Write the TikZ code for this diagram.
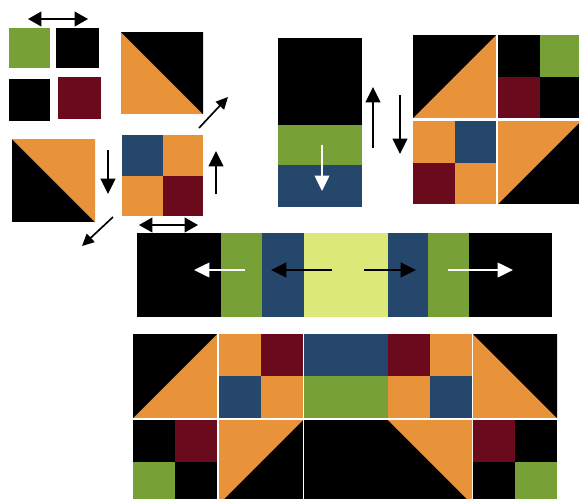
\documentclass[tikz,border=0pt]{standalone}
\usepackage{tikz}
\usetikzlibrary{arrows.meta}

\definecolor{qorange}{HTML}{E8923A}
\definecolor{qgreen}{HTML}{77A136}
\definecolor{qmaroon}{HTML}{6A0A1C}
\definecolor{qblue}{HTML}{24476B}
\definecolor{qlime}{HTML}{DCE877}

% four-patch: x, y (top left), size, TL, TR, BL, BR
\newcommand{\fourpatch}[7]{%
  \fill[#4] (#1,#2) rectangle ++(#3/2,#3/2);
  \fill[#5] (#1+#3/2,#2) rectangle ++(#3/2,#3/2);
  \fill[#6] (#1,#2+#3/2) rectangle ++(#3/2,#3/2);
  \fill[#7] (#1+#3/2,#2+#3/2) rectangle ++(#3/2,#3/2);
}
% half square, diagonal top left to bottom right: x, y, size, upper right, lower left
\newcommand{\halfdown}[5]{%
  \fill[#5] (#1,#2) rectangle ++(#3,#3);
  \fill[#4] (#1,#2) -- ++(#3,0) -- ++(0,#3) -- cycle;
}
% half square, diagonal bottom left to top right: x, y, size, upper left, lower right
\newcommand{\halfup}[5]{%
  \fill[#5] (#1,#2) rectangle ++(#3,#3);
  \fill[#4] (#1,#2) -- ++(#3,0) -- (#1,#2+#3) -- cycle;
}

\begin{document}
\begin{tikzpicture}[
    x=0.03cm, y=-0.03cm,
    arrow/.style={line width=1.5pt, -{Triangle[length=4.6mm,width=4.4mm]}},
    smallarrow/.style={line width=1.4pt, -{Triangle[length=3.6mm,width=3.4mm]}},
    swaparrow/.style={line width=1.5pt, {Triangle[length=4mm,width=4.4mm]}-{Triangle[length=4mm,width=4.4mm]}},
    whitearrow/.style={arrow, white, line width=1.2pt}
]
\clip (0,0) rectangle (579,499);
\fill[white] (0,0) rectangle (579,499);

% Top left: loose squares
\fill[qgreen] (9,28) rectangle (50,68);
\fill[black] (56,28) rectangle (99,68);
\fill[black] (9,79) rectangle (50,121);
\fill[qmaroon] (58,77) rectangle (101,119);

% Top left: half squares and four-patch
\halfdown{121}{32}{82}{black}{qorange}
\halfdown{12}{139}{83}{qorange}{black}
\fourpatch{122}{135}{81}{qblue}{qorange}{qorange}{qmaroon}

% Tall strip unit
\fill[black] (278,38) rectangle (362,125);
\fill[qgreen] (278,125) rectangle (362,165);
\fill[qblue] (278,165) rectangle (362,207);

% Top right block
\halfup{413}{35}{83}{black}{qorange}
\fourpatch{498}{35}{83}{black}{qgreen}{qmaroon}{black}
\fourpatch{413}{121}{83}{qorange}{qblue}{qmaroon}{qorange}
\halfup{498}{121}{83}{qorange}{black}

% Middle band
\fill[black] (137,233) rectangle (221,317);
\fill[qgreen] (221,233) rectangle (262,317);
\fill[qblue] (262,233) rectangle (304,317);
\fill[qlime] (304,233) rectangle (388,317);
\fill[qblue] (388,233) rectangle (428,317);
\fill[qgreen] (428,233) rectangle (469,317);
\fill[black] (469,233) rectangle (552,317);

% Bottom quilt, top row
\halfup{133}{334}{84}{black}{qorange}
\fourpatch{219}{334}{84}{qorange}{qmaroon}{qblue}{qorange}
\fill[qblue] (304,334) rectangle (388,376);
\fill[qgreen] (304,376) rectangle (388,418);
\fourpatch{388}{334}{84}{qmaroon}{qorange}{qorange}{qblue}
\halfdown{473}{334}{84}{black}{qorange}

% Bottom quilt, bottom row
\fourpatch{133}{420}{84}{black}{qmaroon}{qgreen}{black}
\halfup{219}{420}{84}{qorange}{black}
\fill[black] (304,420) rectangle (388,504);
\halfdown{388}{420}{84}{qorange}{black}
\fourpatch{473}{420}{84}{qmaroon}{black}{black}{qgreen}

% Arrow ends
\coordinate (swap1a) at (28,19);
\coordinate (swap1b) at (88,19);
\coordinate (turn1a) at (199,128);
\coordinate (turn1b) at (228,97);
\coordinate (down1a) at (108,150);
\coordinate (down1b) at (108,194);
\coordinate (turn2a) at (113,217);
\coordinate (turn2b) at (82,246);
\coordinate (up1a) at (216,194);
\coordinate (up1b) at (216,151);
\coordinate (swap2a) at (139,225);
\coordinate (swap2b) at (198,225);
\coordinate (slide1a) at (322,145);
\coordinate (slide1b) at (322,191);
\coordinate (up2a) at (373,148);
\coordinate (up2b) at (373,87);
\coordinate (down2a) at (400,95);
\coordinate (down2b) at (400,154);
\coordinate (outLa) at (245,270);
\coordinate (outLb) at (194,270);
\coordinate (inLa) at (332,270);
\coordinate (inLb) at (271,270);
\coordinate (inRa) at (364,270);
\coordinate (inRb) at (416,270);
\coordinate (outRa) at (448,270);
\coordinate (outRb) at (513,270);

% Arrows
\draw[swaparrow] (swap1a) -- (swap1b);
\draw[smallarrow] (turn1a) -- (turn1b);
\draw[arrow] (down1a) -- (down1b);
\draw[smallarrow] (turn2a) -- (turn2b);
\draw[arrow] (up1a) -- (up1b);
\draw[swaparrow] (swap2a) -- (swap2b);
\draw[whitearrow] (slide1a) -- (slide1b);
\draw[arrow] (up2a) -- (up2b);
\draw[arrow] (down2a) -- (down2b);
\draw[whitearrow] (outLa) -- (outLb);
\draw[arrow] (inLa) -- (inLb);
\draw[arrow] (inRa) -- (inRb);
\draw[whitearrow] (outRa) -- (outRb);

\end{tikzpicture}
\end{document}
